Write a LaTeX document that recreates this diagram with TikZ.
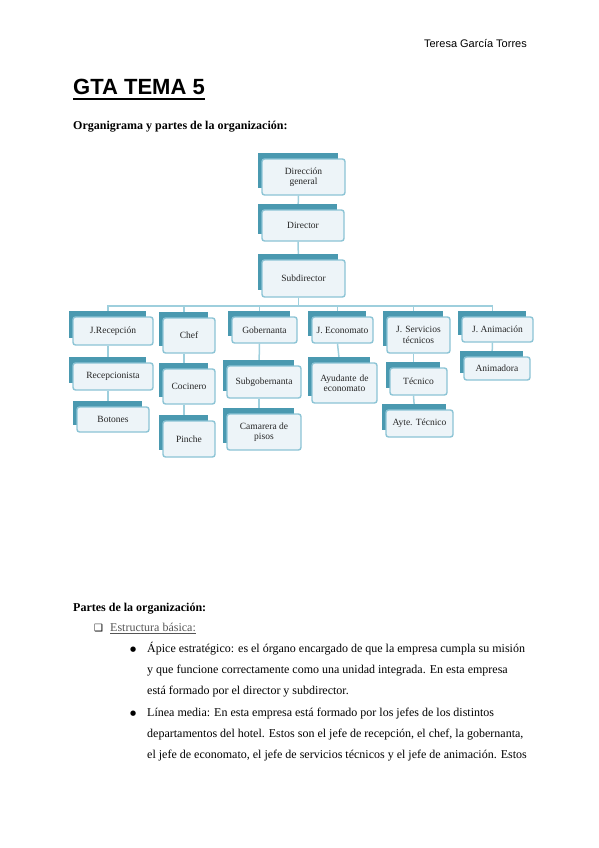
\documentclass[tikz,border=0pt]{standalone}
\usepackage{fontspec}
\setmainfont{Liberation Serif}
\newfontfamily\arialf{Liberation Sans}
\newfontfamily\symf{DejaVu Sans}
\usetikzlibrary{backgrounds}
\definecolor{tealdark}{HTML}{4A99B0}
\definecolor{boxline}{HTML}{8CC4D5}
\definecolor{boxfill}{HTML}{EDF4F8}
\definecolor{connline}{HTML}{9ECFDD}
\definecolor{linkgray}{HTML}{555555}
\tikzset{
  orgbox/.style={draw=boxline, fill=boxfill, line width=1.4pt, rounded corners=2.5pt,
    inner sep=1pt, align=center, font=\fontsize{9.5}{10.5}\selectfont, text=black!85},
  backtab/.style={fill=tealdark},
  conn/.style={draw=connline, line width=1.5pt},
  bodytext/.style={anchor=base west, inner sep=0pt, font=\fontsize{12}{14}\selectfont},
  headtext/.style={anchor=base west, inner sep=0pt, font=\fontsize{12}{14}\selectfont\bfseries}
}
\begin{document}
\begin{tikzpicture}[x=1pt,y=-1pt]
\useasboundingbox (0,0) rectangle (599,848);

% header texts
\node[anchor=base east, inner sep=0pt, font=\arialf\fontsize{11}{13}\selectfont] (author) at (527,48) {Teresa García Torres};
\node[anchor=base west, inner sep=0pt, font=\arialf\bfseries\fontsize{22}{26}\selectfont] (title) at (73,95) {GTA TEMA 5};
\draw[line width=1.6pt] ([yshift=-4pt]title.base west) -- ([yshift=-4pt]title.base east);
\node[headtext] (orgh) at (73,130) {Organigrama y partes de la organización:};

% org chart boxes
\node[orgbox, minimum width=83, minimum height=36, text width=60] (dg) at (303.5,177) {Dirección general};
\node[orgbox, minimum width=82, minimum height=31] (dir) at (303,225.5) {Director};
\node[orgbox, minimum width=83, minimum height=37] (sub) at (303.5,278.5) {Subdirector};

\node[orgbox, minimum width=80, minimum height=28] (jrec) at (113,331) {J.Recepción};
\node[orgbox, minimum width=80, minimum height=27] (recep) at (113,376.5) {Recepcionista};
\node[orgbox, minimum width=72, minimum height=25] (bot) at (113,419.5) {Botones};

\node[orgbox, minimum width=52, minimum height=35] (chef) at (189,335.5) {Chef};
\node[orgbox, minimum width=52, minimum height=35] (coc) at (189,386.5) {Cocinero};
\node[orgbox, minimum width=52, minimum height=36] (pin) at (189,439) {Pinche};

\node[orgbox, minimum width=65, minimum height=26] (gob) at (264.5,330) {Gobernanta};
\node[orgbox, minimum width=74, minimum height=32] (subg) at (264,382) {Subgobernanta};
\node[orgbox, minimum width=74, minimum height=36] (cam) at (264,432) {Camarera de\\pisos};

\node[orgbox, minimum width=61, minimum height=26] (jeco) at (342.5,330) {J. Economato};
\node[orgbox, minimum width=65, minimum height=40, text width=60] (ayu) at (344.5,383) {Ayudante de economato};

\node[orgbox, minimum width=63, minimum height=36, text width=58] (jser) at (418.5,335) {J. Servicios técnicos};
\node[orgbox, minimum width=57, minimum height=27] (tec) at (418.5,381.5) {Técnico};
\node[orgbox, minimum width=67, minimum height=27] (ayte) at (419.5,423.5) {Ayte. Técnico};

\node[orgbox, minimum width=71, minimum height=25] (jani) at (497.5,329.5) {J. Animación};
\node[orgbox, minimum width=66, minimum height=23] (ani) at (497,368.5) {Animadora};

\coordinate (busy) at (0,306);

\begin{pgfonlayer}{background}
  % connectors
  \draw[conn] ([xshift=-5pt]dg.south) -- ([xshift=-5pt]dir.north);
  \draw[conn] ([xshift=-5pt]dir.south) -- ([xshift=-5pt]sub.north);
  \foreach \c in {jrec,chef,gob,jeco,jser,jani}{
    \draw[conn] ([xshift=-5pt]sub.south) -- ([xshift=-5pt]sub.south |- busy) -| ([xshift=-5pt]\c.north);
  }
  \draw[conn] ([xshift=-5pt]jrec.south) -- ([xshift=-5pt]recep.north);
  \draw[conn] ([xshift=-5pt]recep.south) -- ([xshift=-5pt]bot.north);
  \draw[conn] ([xshift=-5pt]chef.south) -- ([xshift=-5pt]coc.north);
  \draw[conn] ([xshift=-5pt]coc.south) -- ([xshift=-5pt]pin.north);
  \draw[conn] ([xshift=-5pt]gob.south) -- ([xshift=-5pt]subg.north);
  \draw[conn] ([xshift=-5pt]subg.south) -- ([xshift=-5pt]cam.north);
  \draw[conn] ([xshift=-5pt]jeco.south) -- ([xshift=-5pt]ayu.north);
  \draw[conn] ([xshift=-5pt]jser.south) -- ([xshift=-5pt]tec.north);
  \draw[conn] ([xshift=-5pt]tec.south) -- ([xshift=-5pt]ayte.north);
  \draw[conn] ([xshift=-5pt]jani.south) -- ([xshift=-5pt]ani.north);
\end{pgfonlayer}
\begin{pgfonlayer}{background}
  \foreach \n in {dg,dir,sub,jrec,recep,bot,chef,coc,pin,gob,subg,cam,jeco,ayu,jser,tec,ayte,jani,ani}{
    \fill[backtab] ([xshift=-3pt,yshift=5pt]\n.north west) rectangle ([xshift=-8pt,yshift=8pt]\n.south east);
  }
\end{pgfonlayer}

% lower text
\node[headtext] (partes) at (73,611) {Partes de la organización:};
\node[anchor=base west, inner sep=0pt, font=\symf\fontsize{10}{12}\selectfont] (chk) at (94,631) {❑};
\node[bodytext, text=linkgray] (estr) at (110,631) {Estructura básica:};
\draw[linkgray, line width=0.6pt] ([yshift=-2pt]estr.base west) -- ([yshift=-2pt]estr.base east);

\node[anchor=base west, inner sep=0pt, font=\symf\fontsize{7}{8}\selectfont] (b1) at (130,651) {●};
\node[bodytext] (l1) at (147,652) {Ápice estratégico: es el órgano encargado de que la empresa cumpla su misión};
\node[bodytext] (l2) at (147,673) {y que funcione correctamente como una unidad integrada. En esta empresa};
\node[bodytext] (l3) at (147,694) {está formado por el director y subdirector.};
\node[anchor=base west, inner sep=0pt, font=\symf\fontsize{7}{8}\selectfont] (b2) at (130,715) {●};
\node[bodytext] (l4) at (147,716) {Línea media: En esta empresa está formado por los jefes de los distintos};
\node[bodytext] (l5) at (147,737) {departamentos del hotel. Estos son el jefe de recepción, el chef, la gobernanta,};
\node[bodytext] (l6) at (147,758) {el jefe de economato, el jefe de servicios técnicos y el jefe de animación. Estos};
\end{tikzpicture}
\end{document}
